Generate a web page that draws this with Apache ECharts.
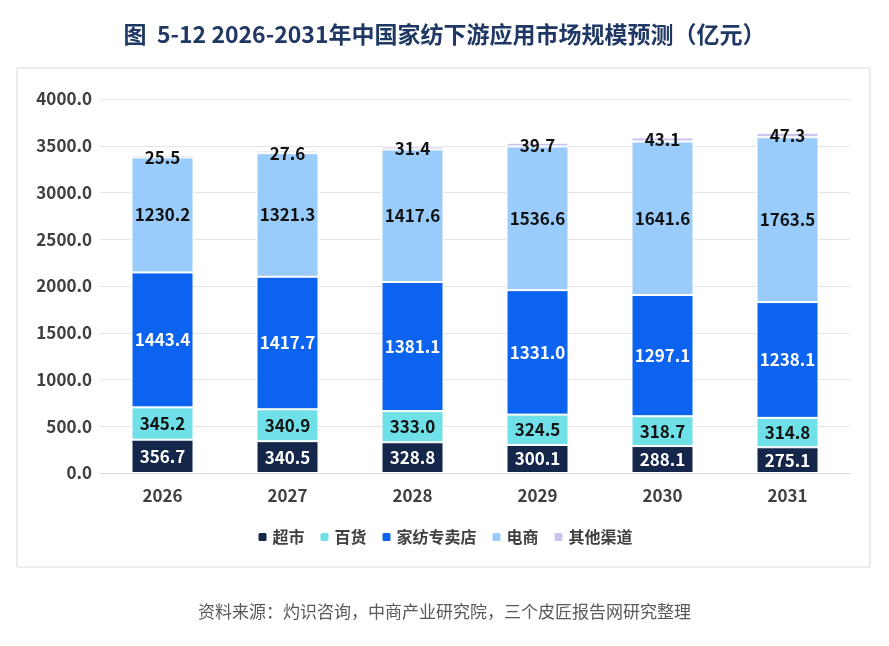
<!DOCTYPE html>
<html>
<head>
<meta charset="utf-8">
<script src="https://cdn.jsdelivr.net/npm/echarts@6/dist/echarts.min.js"></script>
<style>html,body{margin:0;padding:0;background:#fff}#main{width:889px;height:646px}</style>
</head>
<body>
<div id="main"></div>
<script>
var years = ['2026', '2027', '2028', '2029', '2030', '2031'];
var supermarket = [356.7, 340.5, 328.8, 300.1, 288.1, 275.1];
var department = [345.2, 340.9, 333.0, 324.5, 318.7, 314.8];
var specialty = [1443.4, 1417.7, 1381.1, 1331.0, 1297.1, 1238.1];
var ecommerce = [1230.2, 1321.3, 1417.6, 1536.6, 1641.6, 1763.5];
var other = [25.5, 27.6, 31.4, 39.7, 43.1, 47.3];

var font = '"Noto Sans CJK SC", "Noto Sans", sans-serif';
function s(name, data, color, labelColor, extra) {
    var o = {
        name: name, type: 'bar', stack: 'a', data: data, barWidth: 62,
        itemStyle: { color: color, borderColor: '#fff', borderWidth: 1 },
        label: { show: true, color: labelColor, fontWeight: 'bold', fontSize: 17, fontFamily: font,
            formatter: function (p) { return p.value.toFixed(1); } }
    };
    if (extra) Object.assign(o.label, extra);
    return o;
}
var myChart = echarts.init(document.getElementById('main'));
myChart.setOption({
    animation: false,
    textStyle: { fontFamily: font },
    title: {
        text: '图  5-12 2026-2031年中国家纺下游应用市场规模预测（亿元）',
        left: 'center', top: 18,
        textStyle: { fontSize: 23, fontWeight: 'bold', color: '#1f3864', fontFamily: font }
    },
    graphic: [
        { type: 'rect', shape: { x: 17, y: 68, width: 853, height: 499 }, style: { fill: 'none', stroke: '#d9d9d9', lineWidth: 1 } },
        { type: 'text', left: 'center', top: 603, style: { text: '资料来源：灼识咨询，中商产业研究院，三个皮匠报告网研究整理', fill: '#595959', fontSize: 17, fontFamily: font } }
    ],
    legend: {
        bottom: 96, itemWidth: 10, itemHeight: 10, itemGap: 14,
        textStyle: { fontSize: 16, fontWeight: 'bold', color: '#404040' },
        data: ['超市', '百货', '家纺专卖店', '电商', '其他渠道']
    },
    grid: { left: 100, right: 39, top: 99, bottom: 173 },
    xAxis: {
        type: 'category', data: years,
        axisTick: { show: false },
        axisLine: { lineStyle: { color: '#d9d9d9' } },
        axisLabel: { color: '#404040', fontSize: 17, fontWeight: 'bold', margin: 14 }
    },
    yAxis: {
        type: 'value', min: 0, max: 4000, interval: 500,
        axisLabel: { color: '#404040', fontSize: 17, fontWeight: 'bold', formatter: function (v) { return v.toFixed(1); } },
        splitLine: { lineStyle: { color: '#e5e5e5' } }
    },
    series: [
        s('超市', supermarket, '#14264a', '#fff'),
        s('百货', department, '#70e0e8', '#111'),
        s('家纺专卖店', specialty, '#0b63ef', '#fff'),
        s('电商', ecommerce, '#99ccfa', '#111'),
        s('其他渠道', other, '#c8c6ea', '#111', { position: 'top', distance: -11 })
    ]
});
</script>
</body>
</html>
